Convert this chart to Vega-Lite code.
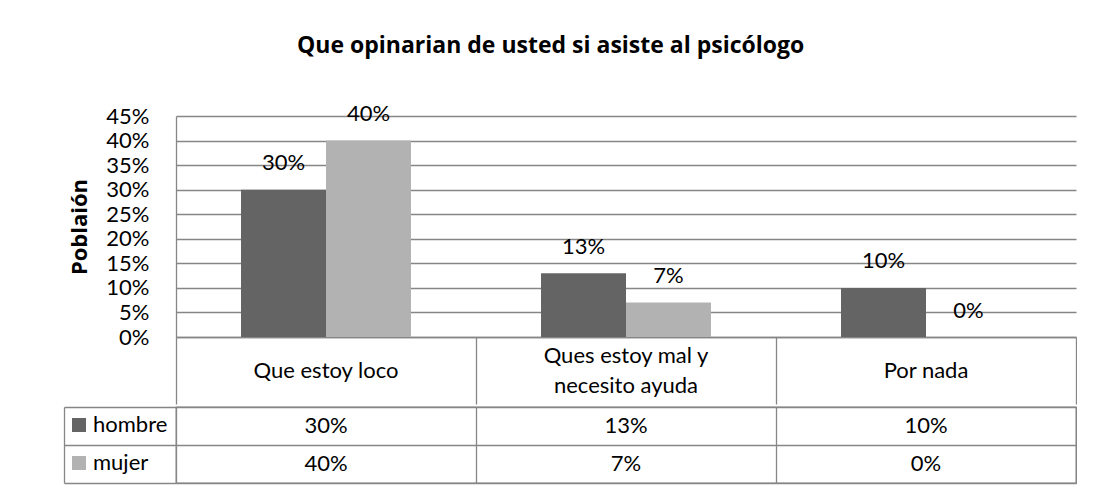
{
  "$schema": "https://vega.github.io/schema/vega-lite/v6.json",
  "background": "white",
  "padding": {"left": 62, "top": 35, "right": 0, "bottom": 0},
  "title": {"text": "Que opinarian de usted si asiste al psicólogo", "font": "Open Sans", "fontSize": 23, "fontWeight": "bold", "color": "#000000", "anchor": "middle", "offset": 45, "dx": -19},
  "data": {"values": [
    {"cat": "Que estoy loco", "sexo": "hombre", "value": 0.30},
    {"cat": "Que estoy loco", "sexo": "mujer", "value": 0.40},
    {"cat": "Ques estoy mal y\nnecesito ayuda", "sexo": "hombre", "value": 0.13},
    {"cat": "Ques estoy mal y\nnecesito ayuda", "sexo": "mujer", "value": 0.07},
    {"cat": "Por nada", "sexo": "hombre", "value": 0.10},
    {"cat": "Por nada", "sexo": "mujer", "value": 0.0}
  ]},
  "spacing": 0,
  "resolve": {"scale": {"x": "independent", "color": "independent"}, "legend": {"color": "independent"}},
  "config": {"view": {"stroke": null}, "font": "Lato"},
  "vconcat": [
    {
      "width": 900,
      "height": 221,
      "encoding": {
        "x": {"field": "cat", "type": "nominal", "sort": ["Que estoy loco", "Ques estoy mal y\nnecesito ayuda", "Por nada"], "scale": {"paddingInner": 0, "paddingOuter": 0},
          "axis": {"title": null, "labels": false, "domainColor": "#868686", "domainWidth": 1.3, "ticks": true, "tickBand": "extent", "tickSize": 67, "tickColor": "#868686", "tickWidth": 1.3, "grid": false}},
        "y": {"field": "value", "type": "quantitative", "scale": {"domain": [0, 0.45], "nice": false},
          "axis": {"values": [0, 0.05, 0.1, 0.15, 0.2, 0.25, 0.3, 0.35, 0.4, 0.45], "format": ".0%", "title": "Poblaión", "titleFont": "Open Sans", "titleFontSize": 22, "titleFontWeight": "bold", "titleColor": "#000000", "titlePadding": 14,
            "labelFont": "Lato", "labelFontSize": 22, "labelColor": "#000000", "labelPadding": 27, "labelOverlap": false, "labelFlush": false, "ticks": false,
            "domain": true, "domainColor": "#868686", "domainWidth": 1.3, "grid": true, "gridColor": "#868686", "gridWidth": 1.3}}
      },
      "layer": [
        {
          "mark": {"type": "bar"},
          "encoding": {
            "xOffset": {"field": "sexo", "type": "nominal", "sort": ["hombre", "mujer"], "scale": {"paddingInner": 0, "paddingOuter": 0.765}},
            "color": {"field": "sexo", "type": "nominal", "scale": {"domain": ["hombre", "mujer"], "range": ["#646464", "#b2b2b2"]}, "legend": null}
          }
        },
        {
          "mark": {"type": "text", "baseline": "alphabetic", "dy": -19.5, "font": "Lato", "fontSize": 22, "color": "#000000"},
          "encoding": {
            "xOffset": {"field": "sexo", "type": "nominal", "sort": ["hombre", "mujer"]},
            "text": {"field": "value", "type": "quantitative", "format": ".0%"}
          }
        },
        {
          "transform": [{"filter": "datum.sexo == 'hombre' && indexof(datum.cat, '\\n') < 0"}],
          "mark": {"type": "text", "baseline": "middle", "dy": 33.5, "font": "Lato", "fontSize": 22, "color": "#000000"},
          "encoding": {
            "y": {"value": "height"},
            "text": {"field": "cat", "type": "nominal"}
          }
        },
        {
          "transform": [{"filter": "datum.sexo == 'hombre' && indexof(datum.cat, '\\n') >= 0"}],
          "mark": {"type": "text", "baseline": "middle", "dy": 18.5, "lineBreak": "\n", "lineHeight": 30, "font": "Lato", "fontSize": 22, "color": "#000000"},
          "encoding": {
            "y": {"value": "height"},
            "text": {"field": "cat", "type": "nominal"}
          }
        }
      ]
    },
    {
      "width": 900,
      "height": 76,
      "view": {"stroke": "#868686", "strokeWidth": 1.3},
      "encoding": {
        "x": {"field": "cat", "type": "nominal", "sort": ["Que estoy loco", "Ques estoy mal y\nnecesito ayuda", "Por nada"], "scale": {"paddingInner": 0, "paddingOuter": 0},
          "axis": {"title": null, "labels": false, "ticks": false, "domain": false, "grid": true, "tickBand": "extent", "gridColor": "#868686", "gridWidth": 1.3}},
        "y": {"field": "sexo", "type": "nominal", "sort": ["hombre", "mujer"], "scale": {"paddingInner": 0, "paddingOuter": 0},
          "axis": {"title": null, "labels": false, "offset": 112, "domain": true, "domainColor": "#868686", "domainWidth": 1.3, "ticks": true, "tickBand": "extent", "tickSize": -112, "tickColor": "#868686", "tickWidth": 1.3, "grid": true, "gridColor": "#868686", "gridWidth": 1.3}}
      },
      "layer": [
        {
          "mark": {"type": "text", "font": "Lato", "fontSize": 22, "color": "#000000"},
          "encoding": {
            "text": {"field": "value", "type": "quantitative", "format": ".0%"}
          }
        },
        {
          "mark": {"type": "square", "opacity": 0},
          "encoding": {
            "color": {"field": "sexo", "type": "nominal", "scale": {"domain": ["hombre", "mujer"], "range": ["#646464", "#b2b2b2"]},
              "legend": {"orient": "none", "legendX": -108, "legendY": 7, "title": null, "direction": "vertical", "symbolType": "square", "symbolSize": 196, "symbolStrokeWidth": 0, "symbolOpacity": 1,
                "labelFont": "Lato", "labelFontSize": 22, "labelColor": "#000000", "labelOffset": 3, "padding": 0, "rowPadding": 16}}
          }
        }
      ]
    }
  ]
}
